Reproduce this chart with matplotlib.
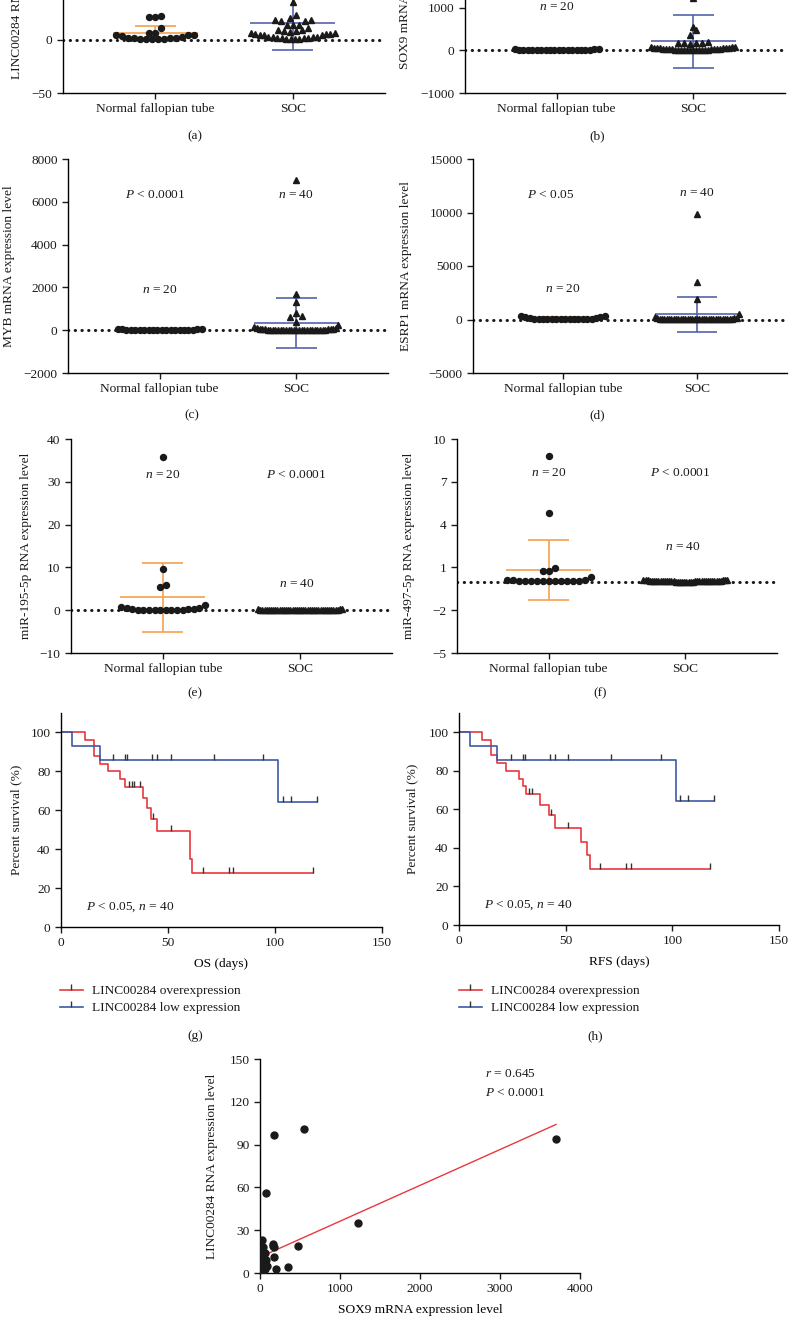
import numpy as np
import matplotlib
matplotlib.use('Agg')
import matplotlib.pyplot as plt
from matplotlib.lines import Line2D

plt.rcParams['font.family'] = ['Liberation Serif', 'DejaVu Serif']
plt.rcParams['font.size'] = 9.6
plt.rcParams['mathtext.fontset'] = 'custom'
plt.rcParams['mathtext.rm'] = 'Liberation Serif'
plt.rcParams['mathtext.it'] = 'Liberation Serif:italic'
plt.rcParams['axes.linewidth'] = 1.0
plt.rcParams['xtick.major.size'] = 4
plt.rcParams['ytick.major.size'] = 4
plt.rcParams['xtick.major.width'] = 1.0
plt.rcParams['ytick.major.width'] = 1.0
plt.rcParams['text.color'] = '#1a1a1a'

# ---- data ----
groups = ['Normal fallopian tube', 'SOC']

# (a) LINC00284 in normal tube
linc_normal = [22.5, 21.5, 21.8, 11.3, 6.3, 6.3, 4.8, 3.2, 2.2, 1.6, 1.2, 0.9, 0.7,
               0.6, 0.7, 0.9, 1.4, 2.0, 4.3, 4.6]
# SOC samples: SOX9 / LINC00284 pairs (also used in panel i)
sox9_soc = [3700, 550, 180, 80, 1230, 470, 20, 160, 165, 170, 40, 30, 50, 60, 170,
            80, 40, 20, 50, 10, 30, 60, 90, 50, 20, 10, 40, 350, 200, 5, 30, 60,
            10, 20, 40, 5, 10, 30, 5, 20]
linc_soc = [94, 101, 97, 56, 35, 19, 23, 20, 19, 18, 18, 14, 14, 14, 11, 9, 9, 8, 8,
            7, 6, 6, 5, 5, 5, 4, 4, 4, 3, 3, 3, 3, 2, 2, 2, 2, 1, 1, 1, 1]
sox9_normal = [12, 8, 5, 3, 6, 10, 4, 2, 7, 9, 15, 30, 22, 5, 3, 8, 12, 6, 18, 25]

myb_normal = [20, 15, 10, 8, 5, 12, 30, 25, 40, 60, 35, 18, 9, 6, 4, 11, 22, 14, 28, 45]
myb_soc = [7000, 1700, 1300, 800, 650, 600, 400, 250, 150, 100, 80, 70, 60, 50, 45,
           40, 35, 30, 28, 25, 22, 20, 18, 15, 12, 10, 9, 8, 7, 6, 5, 5, 4, 3, 3, 2,
           2, 1, 1, 1]

esrp1_normal = [150, 90, 60, 40, 30, 20, 15, 300, 320, 280, 40, 25, 20, 15, 10, 30,
                50, 80, 120, 200]
esrp1_soc = [9900, 3500, 1900, 500, 250, 150, 120, 100, 90, 80, 70, 60, 55, 50, 45,
             40, 35, 30, 28, 25, 22, 20, 18, 15, 12, 10, 9, 8, 7, 6, 5, 5, 4, 3, 3,
             2, 2, 1, 1, 1]

mir195_normal = [35.8, 9.7, 5.8, 5.5, 1.2, 0.7, 0.5, 0.45, 0.35, 0.3, 0.1, 0.08,
                 0.06, 0.05, 0.05, 0.04, 0.05, 0.06, 0.1, 0.2]
mir195_soc = [0.3, 0.2, 0.15, 0.1, 0.1, 0.08, 0.07, 0.06, 0.05, 0.05, 0.05, 0.04,
              0.04, 0.03, 0.03, 0.03, 0.02, 0.02, 0.02, 0.02, 0.02, 0.01, 0.01, 0.01,
              0.01, 0.01, 0.01, 0.01, 0.01, 0.01, 0.02, 0.03, 0.04, 0.05, 0.06, 0.08,
              0.1, 0.12, 0.15, 0.25]

mir497_normal = [8.8, 4.8, 0.95, 0.75, 0.72, 0.35, 0.1, 0.08, 0.06, 0.05, 0.05, 0.04,
                 0.05, 0.06, 0.07, 0.05, 0.06, 0.08, 0.1, 0.12]
mir497_soc = [0.15, 0.12, 0.1, 0.08, 0.07, 0.06, 0.05, 0.05, 0.04, 0.04, 0.03, 0.03,
              0.03, 0.02, 0.02, 0.02, 0.02, 0.01, 0.01, 0.01, 0.01, 0.01, 0.01, 0.01,
              0.01, 0.01, 0.02, 0.02, 0.03, 0.03, 0.04, 0.04, 0.05, 0.05, 0.06, 0.07,
              0.08, 0.1, 0.12, 0.14]

# mean, SD shown by the error bars (normal, SOC)
stats_a = [(6.0, 7.2), (16.0, 25.7)]
stats_b = [(10, 8), (210, 615)]
stats_c = [(22, 15), (340, 1150)]
stats_d = [(100, 100), (480, 1640)]
stats_e = [(3.0, 8.1), (0.05, 0.07)]
stats_f = [(0.85, 2.1), (0.04, 0.04)]

# Kaplan-Meier curves: drop times, survival after each drop, last follow-up, censored times
os_over_t = [11.3, 15.2, 18.1, 22.0, 27.8, 29.8, 38.3, 40.0, 41.9, 44.7, 60.4, 61.2]
os_over_s = [96, 88, 84, 80, 76, 72, 66.5, 61, 55.5, 49.5, 35, 28]
os_over_end = 117.6
os_over_cens = [31.7, 33.0, 34.0, 36.9, 43.2, 51.3, 66.2, 78.5, 80.4, 117.6]

low_t = [5.0, 18.0, 101.6]
low_s = [92.9, 85.7, 64.3]
low_end = 119.6
low_cens = [24.3, 29.8, 30.9, 42.7, 45.0, 51.3, 71.4, 94.5, 103.6, 107.5, 119.6]

rfs_over_t = [11.0, 14.9, 17.7, 22.0, 27.9, 29.8, 31.4, 38.1, 42.1, 45.0, 57.0, 60.0, 61.2]
rfs_over_s = [96, 88, 84, 80, 76, 72, 68, 62.4, 56.9, 50.4, 43.2, 36.2, 28.8]
rfs_over_end = 117.7
rfs_over_cens = [33.0, 34.0, 43.2, 51.3, 66.2, 78.5, 80.4, 117.7]

RED = '#e8383f'
BLUE = '#3d5aa6'
ORANGE = '#f4a24e'
EBLUE = '#5563a8'
DARK = '#1a1a1a'

W, H = 794, 1331
fig = plt.figure(figsize=(W / 100, H / 100), dpi=100)


def px_axes(x0, x1, y0, y1):
    ax = fig.add_axes([x0 / W, 1 - y1 / H, (x1 - x0) / W, (y1 - y0) / H])
    ax.spines['top'].set_visible(False)
    ax.spines['right'].set_visible(False)
    ax.tick_params(colors=DARK, labelcolor=DARK)
    return ax


def ftext(x, y, s, **kw):
    fig.text(x / W, 1 - y / H, s, **kw)


def swarm(center, vals, ppu, ppx, thr=5.5, gap=6.0, half=42.0):
    vals = np.asarray(vals, dtype=float)
    order = np.argsort(vals, kind='stable')
    xs = np.zeros(len(vals))
    i = 0
    while i < len(order):
        j = i
        while j + 1 < len(order) and (vals[order[j + 1]] - vals[order[i]]) * ppu <= thr:
            j += 1
        grp = order[i:j + 1]
        k = len(grp)
        step = gap if k < 2 else min(gap, 2 * half / (k - 1))
        slots = (np.arange(k) - (k - 1) / 2) * step
        slots = slots[np.argsort(np.abs(slots) + 1e-6 * np.sign(slots), kind='stable')]
        xs[grp] = center + slots / ppx
        i = j + 1
    return xs


def strip_panel(box, normal, soc, stats, ylim, yticks, ylabel, label_x, tag, tag_xy):
    ax = px_axes(*box)
    ax.set_xlim(-0.67, 1.67)
    ax.set_ylim(ylim)
    ax.set_yticks(yticks)
    ax.set_xticks([0, 1])
    ax.set_xticklabels(groups)
    ax.axhline(0, color=DARK, lw=2.2, dashes=(0.1, 2.1), dash_capstyle='round', zorder=1)
    ppu = (box[3] - box[2]) / (ylim[1] - ylim[0])
    ppx = (box[1] - box[0]) / 2.34
    for i, (vals, mk, ms, col) in enumerate([(normal, 'o', 4.3, ORANGE), (soc, '^', 5.0, EBLUE)]):
        m, sd = stats[i]
        ax.hlines(m, i - 0.31, i + 0.31, color=col, lw=1.2, zorder=2)
        ax.hlines([m - sd, m + sd], i - 0.15, i + 0.15, color=col, lw=1.2, zorder=2)
        ax.vlines(i, m - sd, m + sd, color=col, lw=1.2, zorder=2)
        xs = swarm(i, vals, ppu, ppx)
        ax.plot(xs, vals, ls='none', marker=mk, ms=ms, color=DARK, mec=DARK, zorder=3)
    ftext(label_x, (box[2] + box[3]) / 2, ylabel, rotation=90, ha='center', va='center')
    ftext(tag_xy[0], tag_xy[1], tag, ha='center', va='center')
    return ax


# (a) and (b) are cropped at the top of the page, only the lower ticks show
ax_a = strip_panel((63, 385, -120, 93), linc_normal, linc_soc, stats_a, (-50, 150),
                   [-50, 0], 'LINC00284 RNA expression level', 17, '(a)', (195, 136))
ax_b = strip_panel((465, 785, -120, 93), sox9_normal, sox9_soc, stats_b, (-1000, 4000),
                   [-1000, 0, 1000], 'SOX9 mRNA expression level', 405, '(b)', (597, 136))
ax_b.text(0, 1010, '$n$ = 20', ha='center', va='center')

ax_c = strip_panel((68, 388, 159, 373), myb_normal, myb_soc, stats_c, (-2000, 8000),
                   [-2000, 0, 2000, 4000, 6000, 8000], 'MYB mRNA expression level', 9, '(c)', (192, 415))
ax_c.text(-0.03, 6300, '$P$ < 0.0001', ha='center', va='center')
ax_c.text(1, 6300, '$n$ = 40', ha='center', va='center')
ax_c.text(0, 1900, '$n$ = 20', ha='center', va='center')

ax_d = strip_panel((473, 787, 159, 373), esrp1_normal, esrp1_soc, stats_d, (-5000, 15000),
                   [-5000, 0, 5000, 10000, 15000], 'ESRP1 mRNA expression level', 406, '(d)', (597, 415))
ax_d.text(-0.09, 11660, '$P$ < 0.05', ha='center', va='center')
ax_d.text(1, 11850, '$n$ = 40', ha='center', va='center')
ax_d.text(0, 2840, '$n$ = 20', ha='center', va='center')

ax_e = strip_panel((71, 392, 439, 653), mir195_normal, mir195_soc, stats_e, (-10, 40),
                   [-10, 0, 10, 20, 30, 40], 'miR-195-5p RNA expression level', 26, '(e)', (195, 693))
ax_e.text(0, 31.7, '$n$ = 20', ha='center', va='center')
ax_e.text(0.97, 31.7, '$P$ < 0.0001', ha='center', va='center')
ax_e.text(0.98, 6.2, '$n$ = 40', ha='center', va='center')

ax_f = strip_panel((457, 777, 439, 653), mir497_normal, mir497_soc, stats_f, (-5, 10),
                   [-5, -2, 1, 4, 7, 10], 'miR-497-5p RNA expression level', 409, '(f)', (600, 693))
ax_f.text(0, 7.6, '$n$ = 20', ha='center', va='center')
ax_f.text(0.96, 7.6, '$P$ < 0.0001', ha='center', va='center')
ax_f.text(0.98, 2.4, '$n$ = 40', ha='center', va='center')

# ---- survival panels ----
TICK = [(0, 0), (0, 1)]


def km_curve(ax, t, s, end, cens, color):
    tt = np.r_[0, t, end]
    ss = np.r_[100, s, s[-1]]
    ax.step(tt, ss, where='post', color=color, lw=1.2, zorder=2)
    idx = np.searchsorted(np.asarray(t), cens, side='right')
    cy = np.r_[100, s][idx]
    ax.plot(cens, cy, ls='none', marker=TICK, ms=8, mfc='none', mec='#333333', mew=1.0, zorder=3)


def km_panel(box, over, xlabel, label_x, tag, tag_xy, leg_xy):
    ax = px_axes(*box)
    km_curve(ax, *over, RED)
    km_curve(ax, low_t, low_s, low_end, low_cens, BLUE)
    ax.set_xlim(0, 150)
    ax.set_ylim(0, 110)
    ax.set_xticks([0, 50, 100, 150])
    ax.set_yticks([0, 20, 40, 60, 80, 100])
    ax.set_xlabel(xlabel, labelpad=6)
    ax.text(11.5, 10, '$P$ < 0.05, $n$ = 40', ha='left', va='center')
    ftext(label_x, (box[2] + box[3]) / 2, 'Percent survival (%)', rotation=90, ha='center', va='center')
    ftext(tag_xy[0], tag_xy[1], tag, ha='center', va='center')
    handles = [Line2D([], [], color=RED, lw=1.2, marker=TICK, ms=8, mfc='none', mec='#333333'),
               Line2D([], [], color=BLUE, lw=1.2, marker=TICK, ms=8, mfc='none', mec='#333333')]
    fig.legend(handles, ['LINC00284 overexpression', 'LINC00284 low expression'],
               loc='upper left', bbox_to_anchor=(leg_xy[0] / W, 1 - leg_xy[1] / H),
               frameon=False, borderpad=0, borderaxespad=0, handlelength=1.7,
               handletextpad=0.7, labelspacing=0.35, numpoints=1)
    return ax


km_panel((61, 382, 713, 927), (os_over_t, os_over_s, os_over_end, os_over_cens),
         'OS (days)', 16, '(g)', (195, 1036), (60, 985))
km_panel((459, 779, 713, 925), (rfs_over_t, rfs_over_s, rfs_over_end, rfs_over_cens),
         'RFS (days)', 412, '(h)', (595, 1036), (459, 985))

# ---- correlation panel ----
ax_i = px_axes(260, 580, 1059, 1273)
sx = np.asarray(sox9_soc, dtype=float)
ly = np.asarray(linc_soc, dtype=float)
ax_i.plot(sx, ly, ls='none', marker='o', ms=5, color=DARK, zorder=3)
slope, icpt = np.polyfit(sx, ly, 1)
xl = np.array([0, sx.max()])
ax_i.plot(xl, icpt + slope * xl, color=RED, lw=1.0, zorder=2)
ax_i.set_xlim(0, 4000)
ax_i.set_ylim(0, 150)
ax_i.set_xticks([0, 1000, 2000, 3000, 4000])
ax_i.set_yticks([0, 30, 60, 90, 120, 150])
ax_i.set_xlabel('SOX9 mRNA expression level', labelpad=6)
ax_i.text(2810, 139.5, '$r$ = 0.645', ha='left', va='center')
ax_i.text(2810, 126, '$P$ < 0.0001', ha='left', va='center')
ftext(212, (1059 + 1273) / 2, 'LINC00284 RNA expression level', rotation=90, ha='center', va='center')

fig.savefig('out.png', dpi=100)
